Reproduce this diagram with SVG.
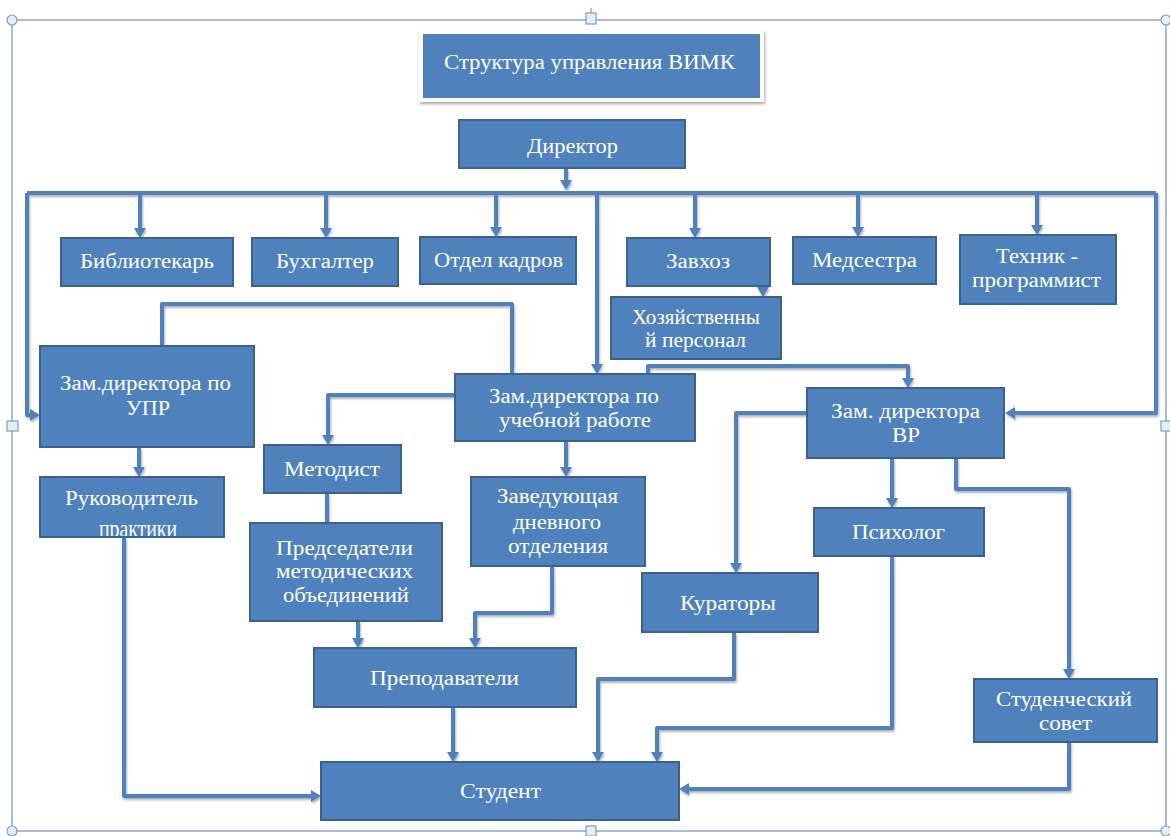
<svg xmlns="http://www.w3.org/2000/svg" width="1170" height="836" viewBox="0 0 1170 836">
<defs>
<style>
.box{fill:#4f81bd;stroke:#3a6190;stroke-width:2}
.t{fill:#ffffff;font-family:"Liberation Serif","Times New Roman",serif;font-size:20px}
.c{fill:none;stroke:#4f81bd;stroke-width:4;stroke-linejoin:round}
.frame{fill:none;stroke:#8ea7c8;stroke-width:1.5}
.h{fill:#dff1f7;stroke:#7f9bbf;stroke-width:1.2}
</style>
<marker id="ah" viewBox="0 0 10 12" refX="0" refY="6" markerWidth="10" markerHeight="12" markerUnits="userSpaceOnUse" orient="auto">
<path d="M0,0 L10,6 L0,12 z" fill="#4f81bd"/>
</marker>
<filter id="sh" x="-5%" y="-5%" width="110%" height="110%">
<feDropShadow dx="1" dy="2" stdDeviation="1.2" flood-color="#000" flood-opacity="0.3"/>
</filter>
<filter id="tsh" x="-10%" y="-20%" width="120%" height="140%">
<feDropShadow dx="1" dy="2" stdDeviation="1.5" flood-color="#000" flood-opacity="0.35"/>
</filter>
<clipPath id="clipPractice">
<rect x="41" y="478" width="182" height="58"/>
</clipPath>
</defs>
<rect width="1170" height="836" fill="#ffffff"/>

<g id="frame">
<rect class="frame" x="12" y="20" width="1154" height="811"/>
<line x1="591" y1="8" x2="591" y2="13" stroke="#7f9bbf" stroke-width="1.2"/>
<circle class="h" cx="12" cy="20" r="5"/>
<circle class="h" cx="1166" cy="20" r="5"/>
<circle class="h" cx="12" cy="831" r="5"/>
<circle class="h" cx="1166" cy="831" r="5"/>
<rect class="h" x="586" y="13" width="10" height="11"/>
<rect class="h" x="7" y="421" width="11" height="10"/>
<rect class="h" x="1161" y="421" width="11" height="10"/>
<rect class="h" x="586" y="826" width="10" height="10"/>
</g>

<g id="connectors" filter="url(#sh)">
<path class="c" d="M566,168 V180" marker-end="url(#ah)"/>
<path class="c" d="M27,193 H1156"/>
<path class="c" d="M27,193 V415 H30" marker-end="url(#ah)"/>
<path class="c" d="M1156,193 V413 H1015" marker-end="url(#ah)"/>
<path class="c" d="M140,193 V228" marker-end="url(#ah)"/>
<path class="c" d="M326,193 V228" marker-end="url(#ah)"/>
<path class="c" d="M496,193 V227" marker-end="url(#ah)"/>
<path class="c" d="M695,193 V228" marker-end="url(#ah)"/>
<path class="c" d="M858,193 V227" marker-end="url(#ah)"/>
<path class="c" d="M1037,193 V225" marker-end="url(#ah)"/>
<path class="c" d="M597,193 V364" marker-end="url(#ah)"/>
<path class="c" d="M763,284 V287" marker-end="url(#ah)"/>
<path class="c" d="M162,346 V304 H512 V374"/>
<path class="c" d="M455,395 H328 V435" marker-end="url(#ah)"/>
<path class="c" d="M566,441 V467" marker-end="url(#ah)"/>
<path class="c" d="M648,374 V366 H908 V378" marker-end="url(#ah)"/>
<path class="c" d="M139,447 V467" marker-end="url(#ah)"/>
<path class="c" d="M327,493 V523"/>
<path class="c" d="M124,537 V796 H311" marker-end="url(#ah)"/>
<path class="c" d="M552,566 V613 H475 V638" marker-end="url(#ah)"/>
<path class="c" d="M358,621 V638" marker-end="url(#ah)"/>
<path class="c" d="M453,707 V752" marker-end="url(#ah)"/>
<path class="c" d="M807,413 H736 V563" marker-end="url(#ah)"/>
<path class="c" d="M892,458 V498" marker-end="url(#ah)"/>
<path class="c" d="M956,458 V489 H1069 V669" marker-end="url(#ah)"/>
<path class="c" d="M892,556 V728 H657 V752" marker-end="url(#ah)"/>
<path class="c" d="M734,632 V679 H598 V752" marker-end="url(#ah)"/>
<path class="c" d="M1069,742 V789 H689" marker-end="url(#ah)"/>
</g>

<g id="title">
<rect x="419" y="30" width="345" height="72" fill="#ffffff" filter="url(#tsh)"/>
<rect x="423" y="34" width="337" height="64" fill="#4f81bd"/>
<text class="t" x="444" y="69" textLength="291" lengthAdjust="spacingAndGlyphs">Структура управления ВИМК</text>
</g>

<g id="director">
<rect class="box" x="459" y="120" width="226" height="48"/>
<text class="t" x="527" y="153" textLength="91" lengthAdjust="spacingAndGlyphs">Директор</text>
</g>

<g id="librarian">
<rect class="box" x="61" y="238" width="172" height="48"/>
<text class="t" x="80" y="268" textLength="134" lengthAdjust="spacingAndGlyphs">Библиотекарь</text>
</g>

<g id="accountant">
<rect class="box" x="252" y="238" width="146" height="48"/>
<text class="t" x="276" y="268" textLength="98" lengthAdjust="spacingAndGlyphs">Бухгалтер</text>
</g>

<g id="hr">
<rect class="box" x="420" y="237" width="156" height="47"/>
<text class="t" x="434" y="267" textLength="129" lengthAdjust="spacingAndGlyphs">Отдел кадров</text>
</g>

<g id="zavhoz">
<rect class="box" x="627" y="238" width="143" height="48"/>
<text class="t" x="666" y="268" textLength="64" lengthAdjust="spacingAndGlyphs">Завхоз</text>
</g>

<g id="nurse">
<rect class="box" x="793" y="237" width="143" height="47"/>
<text class="t" x="812" y="267" textLength="105" lengthAdjust="spacingAndGlyphs">Медсестра</text>
</g>

<g id="tech">
<rect class="box" x="960" y="235" width="156" height="69"/>
<text class="t" x="996" y="263" textLength="82" lengthAdjust="spacingAndGlyphs">Техник -</text>
<text class="t" x="972" y="287" textLength="129" lengthAdjust="spacingAndGlyphs">программист</text>
</g>

<g id="staff">
<rect class="box" x="611" y="297" width="170" height="62"/>
<text class="t" x="632" y="324" textLength="128" lengthAdjust="spacingAndGlyphs">Хозяйственны</text>
<text class="t" x="645" y="347" textLength="101" lengthAdjust="spacingAndGlyphs">й персонал</text>
</g>

<g id="dep-upr">
<rect class="box" x="40" y="346" width="214" height="101"/>
<text class="t" x="60" y="390" textLength="171" lengthAdjust="spacingAndGlyphs">Зам.директора по</text>
<text class="t" x="126" y="415" textLength="44" lengthAdjust="spacingAndGlyphs">УПР</text>
</g>

<g id="dep-study">
<rect class="box" x="455" y="374" width="240" height="67"/>
<text class="t" x="489" y="403" textLength="170" lengthAdjust="spacingAndGlyphs">Зам.директора по</text>
<text class="t" x="499" y="427" textLength="152" lengthAdjust="spacingAndGlyphs">учебной работе</text>
</g>

<g id="dep-vr">
<rect class="box" x="807" y="388" width="197" height="70"/>
<text class="t" x="831" y="418" textLength="149" lengthAdjust="spacingAndGlyphs">Зам. директора</text>
<text class="t" x="892" y="442" textLength="28" lengthAdjust="spacingAndGlyphs">ВР</text>
</g>

<g id="methodist">
<rect class="box" x="264" y="445" width="137" height="48"/>
<text class="t" x="284" y="476" textLength="96" lengthAdjust="spacingAndGlyphs">Методист</text>
</g>

<g id="practice">
<rect class="box" x="40" y="477" width="184" height="60"/>
<text class="t" x="65" y="505" style="font-size:22px" textLength="133" lengthAdjust="spacingAndGlyphs">Руководитель</text>
<text class="t" x="99" y="537" style="font-size:25px" textLength="78" lengthAdjust="spacingAndGlyphs" clip-path="url(#clipPractice)">практики</text>
</g>

<g id="chairs">
<rect class="box" x="250" y="523" width="192" height="98"/>
<text class="t" x="276" y="555" textLength="137" lengthAdjust="spacingAndGlyphs">Председатели</text>
<text class="t" x="276" y="578" textLength="137" lengthAdjust="spacingAndGlyphs">методических</text>
<text class="t" x="283" y="602" textLength="126" lengthAdjust="spacingAndGlyphs">объединений</text>
</g>

<g id="day-head">
<rect class="box" x="471" y="477" width="174" height="89"/>
<text class="t" x="497" y="503" textLength="121" lengthAdjust="spacingAndGlyphs">Заведующая</text>
<text class="t" x="513" y="529" textLength="88" lengthAdjust="spacingAndGlyphs">дневного</text>
<text class="t" x="508" y="553" textLength="100" lengthAdjust="spacingAndGlyphs">отделения</text>
</g>

<g id="psychologist">
<rect class="box" x="814" y="508" width="170" height="48"/>
<text class="t" x="852" y="539" textLength="93" lengthAdjust="spacingAndGlyphs">Психолог</text>
</g>

<g id="curators">
<rect class="box" x="642" y="573" width="176" height="59"/>
<text class="t" x="680" y="610" textLength="96" lengthAdjust="spacingAndGlyphs">Кураторы</text>
</g>

<g id="teachers">
<rect class="box" x="314" y="648" width="262" height="59"/>
<text class="t" x="370" y="685" textLength="149" lengthAdjust="spacingAndGlyphs">Преподаватели</text>
</g>

<g id="council">
<rect class="box" x="974" y="679" width="183" height="63"/>
<text class="t" x="996" y="706" textLength="136" lengthAdjust="spacingAndGlyphs">Студенческий</text>
<text class="t" x="1039" y="730" textLength="53" lengthAdjust="spacingAndGlyphs">совет</text>
</g>

<g id="student">
<rect class="box" x="321" y="762" width="358" height="58"/>
<text class="t" x="460" y="798" textLength="81" lengthAdjust="spacingAndGlyphs">Студент</text>
</g>
</svg>
